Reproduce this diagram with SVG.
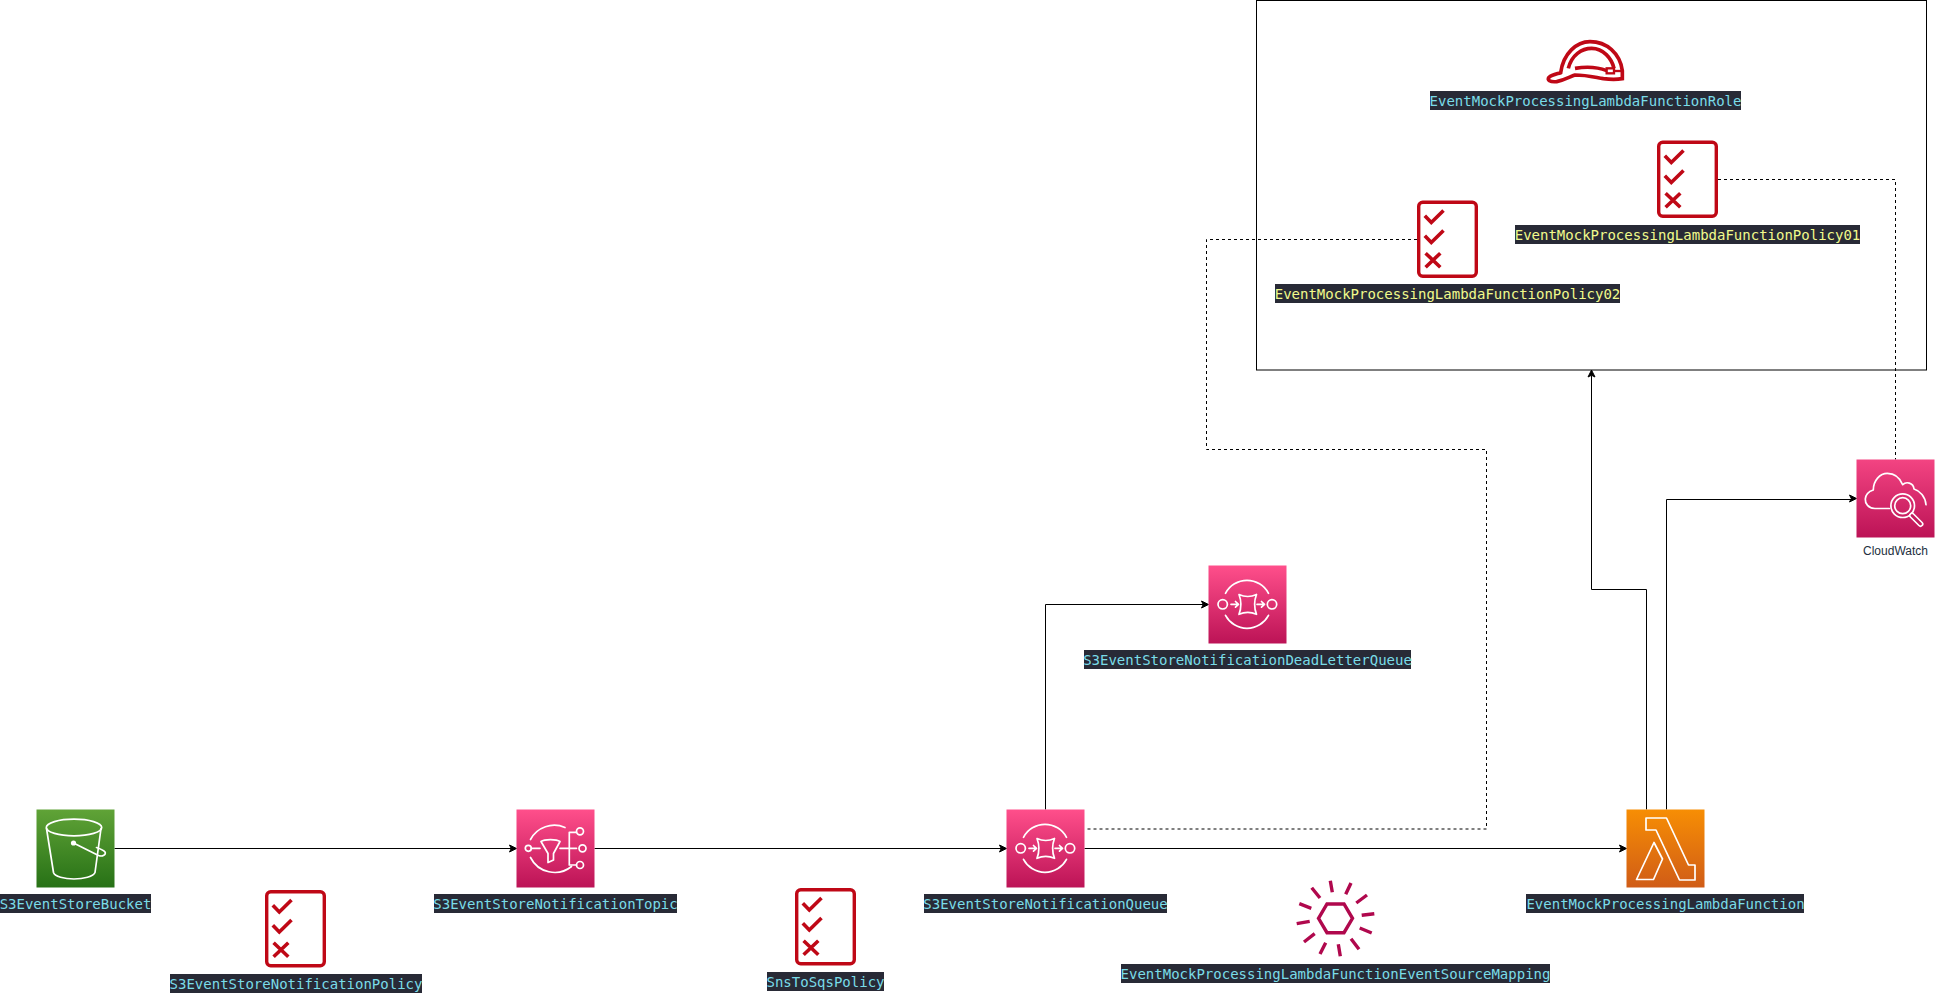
<svg xmlns="http://www.w3.org/2000/svg" width="1935" height="995" viewBox="0 0 1935 995">
<style>
.bg{fill:#282a36}
.t{font-family:"DejaVu Sans Mono",monospace;font-size:14px;text-anchor:middle}
.c{fill:#7adce8}
.y{fill:#f1fa8c}
.conn{fill:none;stroke:#000;stroke-width:1;stroke-miterlimit:10}
.dash{stroke-dasharray:3 3}
.g{fill:none;stroke:#fff;stroke-width:1.7;stroke-linejoin:round;stroke-linecap:round}
.r{fill:none;stroke:#bf0816}
.ray{fill:none;stroke:#b0084d;stroke-width:3.4}
</style>
<defs>
<linearGradient id="gS3" x1="0" y1="0" x2="0" y2="1"><stop offset="0" stop-color="#60a337"/><stop offset="1" stop-color="#277116"/></linearGradient>
<linearGradient id="gPink" x1="0" y1="0" x2="0" y2="1"><stop offset="0" stop-color="#ff4f8b"/><stop offset="1" stop-color="#bc1356"/></linearGradient>
<linearGradient id="gCw" x1="0" y1="0" x2="0" y2="1"><stop offset="0" stop-color="#f34482"/><stop offset="1" stop-color="#bc1356"/></linearGradient>
<linearGradient id="gLam" x1="0" y1="0" x2="0" y2="1"><stop offset="0" stop-color="#f78e04"/><stop offset="1" stop-color="#d05c17"/></linearGradient>
<marker id="arrow" markerUnits="userSpaceOnUse" markerWidth="12" markerHeight="12" refX="3.75" refY="6" orient="auto" overflow="visible"><path d="M9 6L2 9.5L3.75 6L2 2.5Z" fill="#000" stroke="#000" stroke-miterlimit="10"/></marker>
<marker id="arrowUp1" markerUnits="userSpaceOnUse" markerWidth="12" markerHeight="12" refX="3.75" refY="7" orient="auto" overflow="visible"><path d="M9 6L2 9.5L3.75 6L2 2.5Z" fill="#000" stroke="#000" stroke-miterlimit="10"/></marker>
<g id="policy">
<rect class="r" x="1.7" y="1.7" width="57.6" height="74" rx="4" stroke-width="3.4"/>
<path class="r" stroke-width="3.6" d="M7.8 15.3L14.3 22L26.5 10M7.8 35.3L14.3 42L26.5 30M8.6 52.7L23.3 66.7M23.3 52.7L8.6 66.7"/>
</g>
<g id="sqsGlyph">
<path class="g" d="M17 27.8A24.3 24.3 0 0 1 60 27.8M17 49.8A24.3 24.3 0 0 0 60 49.8"/>
<circle class="g" cx="14.2" cy="38.8" r="4.7"/>
<circle class="g" cx="63.5" cy="38.8" r="4.7"/>
<path class="g" d="M22.5 38.8H29.5M27 36L30 38.8L27 41.6M48.5 38.8H55.5M53 36L56 38.8L53 41.6"/>
<path class="g" d="M30.5 29Q39.3 33 48 29Q44.2 38.8 48 48.8Q39.3 44.8 30.5 48.8Q34.3 38.8 30.5 29Z"/>
</g>
</defs>

<g id="connectors">
<path class="conn" marker-end="url(#arrow)" d="M114.5 848.5H511.25"/>
<path class="conn" marker-end="url(#arrow)" d="M594.5 848.5H1001.25"/>
<path class="conn" marker-end="url(#arrow)" d="M1084.5 848.5H1621.25"/>
<path class="conn" marker-end="url(#arrow)" d="M1045.5 809.5V604.5H1203.25"/>
<path class="conn" marker-end="url(#arrow)" d="M1646.5 809.5V589.5H1591.5V375.25"/>
<path class="conn" marker-end="url(#arrowUp1)" d="M1666.5 809.5V499.5H1851.25"/>
<path class="conn dash" d="M1087.5 829H1486.5V449.5H1206.5V239.5H1417"/>
<path class="conn dash" d="M1718 179.5H1895.5V459.5"/>
</g>

<g id="role-container"><rect x="1256.5" y="0.5" width="670" height="369.5" fill="none" stroke="#000"/></g>

<g id="S3EventStoreBucket">
<g transform="translate(36.5 809.5)">
<rect width="78" height="78" fill="url(#gS3)"/>
<ellipse class="g" cx="37.5" cy="18" rx="27.7" ry="8.3"/>
<path class="g" d="M10 19L17 63C18 67 28 69.5 37.5 69.5C47 69.5 57 67 58.5 63L64.5 19"/>
<circle cx="37" cy="33.5" r="2.6" fill="#fff"/>
<path class="g" d="M37 33.5L62 46C66 47.5 70 45 68.5 42.5C67 40.5 63 39 60 38"/>
</g>
<rect class="bg" x="0" y="894" width="151" height="19"/><text class="t c" x="75.5" y="909">S3EventStoreBucket</text>
</g>

<g id="S3EventStoreNotificationPolicy">
<use href="#policy" x="265" y="890"/>
<rect class="bg" x="170" y="974" width="252" height="19"/><text class="t c" x="296" y="989">S3EventStoreNotificationPolicy</text>
</g>

<g id="S3EventStoreNotificationTopic">
<g transform="translate(516.5 809.5)">
<rect width="78" height="78" fill="url(#gPink)"/>
<path class="g" d="M48.5 18A27 27 0 0 0 14 30M14 48A27 27 0 0 0 55 57"/>
<circle class="g" cx="11.8" cy="38.8" r="3"/>
<path class="g" d="M14.9 38.8H23.5M43.5 38.8H60M52.8 22.8V55.5M52.8 22.8H60M52.8 55.5H60"/>
<path class="g" d="M24.5 32C28 29.5 40 29.5 43.5 32L37 44V50.5L31.5 53V44Z"/>
<circle class="g" cx="66" cy="38.8" r="3.5"/>
<circle class="g" cx="63.5" cy="21.8" r="3.5"/>
<circle class="g" cx="63.5" cy="55.5" r="3.5"/>
</g>
<rect class="bg" x="434" y="894" width="243" height="19"/><text class="t c" x="555.5" y="909">S3EventStoreNotificationTopic</text>
</g>

<g id="SnsToSqsPolicy">
<use href="#policy" x="795" y="888"/>
<rect class="bg" x="767" y="972" width="117" height="19"/><text class="t c" x="825.5" y="987">SnsToSqsPolicy</text>
</g>

<g id="S3EventStoreNotificationQueue">
<g transform="translate(1006.5 809.5)">
<rect width="78" height="78" fill="url(#gPink)"/>
<use href="#sqsGlyph"/>
</g>
<rect class="bg" x="924" y="894" width="243" height="19"/><text class="t c" x="1045.5" y="909">S3EventStoreNotificationQueue</text>
</g>

<g id="S3EventStoreNotificationDeadLetterQueue">
<g transform="translate(1208.5 565.5)">
<rect width="78" height="78" fill="url(#gPink)"/>
<use href="#sqsGlyph"/>
</g>
<rect class="bg" x="1084" y="650" width="327" height="19"/><text class="t c" x="1247.5" y="665">S3EventStoreNotificationDeadLetterQueue</text>
</g>

<g id="EventMockProcessingLambdaFunctionEventSourceMapping">
<g transform="translate(0 -1)">
<path class="ray" d="M1330.3 881.7L1332.3 893.3M1351 884L1345.7 895.3M1367 896L1356.3 904M1374.3 914.7L1361.7 916.3M1371.7 934L1359.7 929M1359 950.3L1351 939.7M1340.3 957.3L1338.3 945.3M1320 955L1325.7 943.7M1304 943L1314.7 934.7M1296.7 924.7L1309.7 922.3M1299.3 904.7L1311.3 909.3M1311.7 888.7L1320 899"/>
<path class="ray" d="M1318.5 919.3L1327 905H1344L1352.5 919.3L1344 933.7H1327Z"/>
</g>
<rect class="bg" x="1121" y="964" width="429" height="19"/><text class="t c" x="1335.5" y="979">EventMockProcessingLambdaFunctionEventSourceMapping</text>
</g>

<g id="EventMockProcessingLambdaFunction">
<g transform="translate(1626.5 809.5)">
<rect width="78" height="78" fill="url(#gLam)"/>
<path class="g" stroke-linejoin="miter" d="M19.5 8.5H40L62 55.5H68.5V70.5H53L29.5 20.5H19.5ZM27.5 33L36 49.5L27 70H10Z"/>
</g>
<rect class="bg" x="1526" y="894" width="278" height="19"/><text class="t c" x="1665.5" y="909">EventMockProcessingLambdaFunction</text>
</g>

<g id="CloudWatch">
<g transform="translate(1856.5 459.5)">
<rect width="78" height="78" fill="url(#gCw)"/>
<path class="g" d="M32.8 49H18.5C11.8 49 8.5 44 8.8 39.5C9.2 34.5 12.8 31.8 16.8 30.5C16.8 21 23.5 13.8 30.8 13.8C38.5 13.8 43.5 18.5 46.2 25.2C49.5 21.8 56.8 22.8 57.5 29.5C63.5 31.2 68.8 37.2 69.5 45.2"/>
<circle class="g" cx="46.2" cy="46.2" r="11.8"/>
<circle class="g" cx="46.2" cy="46.2" r="8"/>
<path d="M55.5 56L64 64.5" fill="none" stroke="#fff" stroke-width="6" stroke-linecap="round"/>
<path d="M55.5 56L64 64.5" fill="none" stroke="#c41c5e" stroke-width="2.8" stroke-linecap="round"/>
</g>
<text x="1895.5" y="555" font-family="'Liberation Sans',Arial,sans-serif" font-size="12" fill="#232f3e" text-anchor="middle">CloudWatch</text>
</g>

<g id="EventMockProcessingLambdaFunctionRole">
<g transform="translate(1540 30) scale(.3333)" fill="none" stroke="#bf0816" stroke-width="11">
<path d="M62 128C70 70 110 35 150 35C200 35 240 70 247 122V146C225 150 205 148 190 146C165 142 140 135 105 135C90 140 75 150 50 155C30 157 20 150 27 142C35 135 50 132 62 128Z"/>
<path d="M85 115C95 75 125 55 155 55C190 55 215 85 222 115"/>
<path d="M105 115C135 110 170 110 200 122"/>
<rect x="200" y="115" width="22" height="15" stroke-width="7"/>
<path d="M222 123H247" stroke-width="7"/>
</g>
<rect class="bg" x="1430" y="91" width="311" height="19"/><text class="t c" x="1585.5" y="106">EventMockProcessingLambdaFunctionRole</text>
</g>

<g id="EventMockProcessingLambdaFunctionPolicy01">
<use href="#policy" x="1657" y="140.5"/>
<rect class="bg" x="1515" y="225" width="345" height="19"/><text class="t y" x="1687.5" y="240">EventMockProcessingLambdaFunctionPolicy01</text>
</g>

<g id="EventMockProcessingLambdaFunctionPolicy02">
<use href="#policy" x="1417" y="200.5"/>
<rect class="bg" x="1275" y="284" width="345" height="19"/><text class="t y" x="1447.5" y="299">EventMockProcessingLambdaFunctionPolicy02</text>
</g>
</svg>
